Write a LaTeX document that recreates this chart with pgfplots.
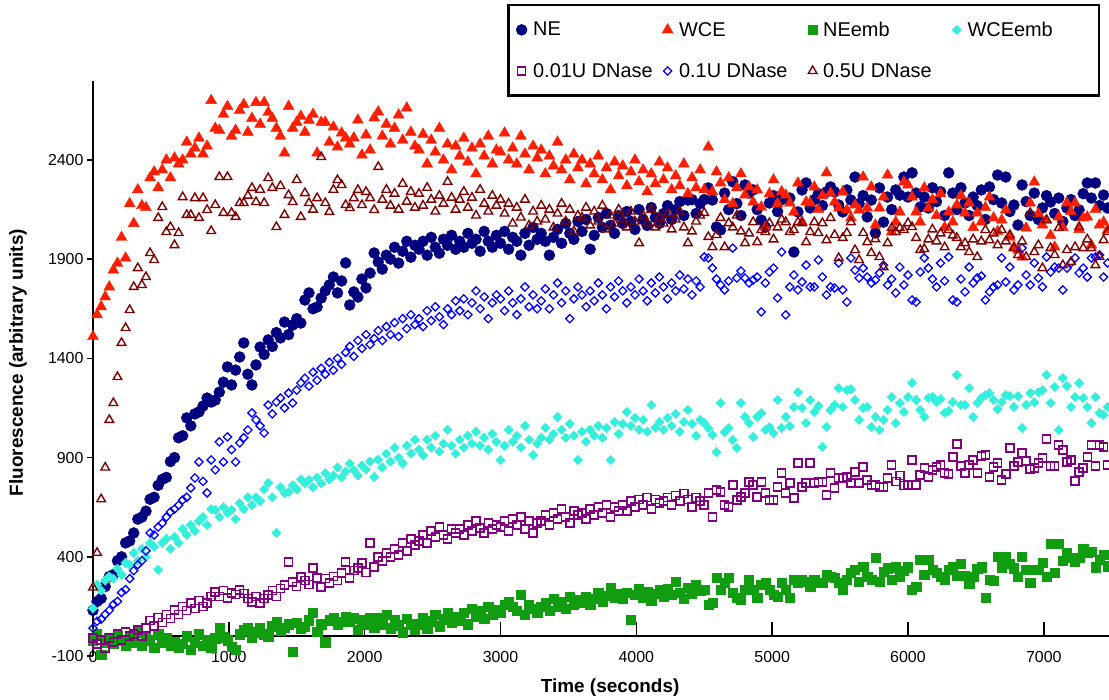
\documentclass[border=0pt]{standalone}
\usepackage{fontspec}
\setmainfont{Liberation Sans}
\usepackage{pgfplots}
\usepackage{pgfplotstable}
\pgfplotsset{compat=1.18}
\definecolor{cNE}{RGB}{0,0,128}
\definecolor{cWCE}{RGB}{255,30,0}
\definecolor{cNEe}{RGB}{16,158,16}
\definecolor{cWCEe}{RGB}{51,240,220}
\definecolor{cDa}{RGB}{128,0,128}
\definecolor{cDb}{RGB}{0,0,255}
\definecolor{cDc}{RGB}{128,0,0}
\pgfplotstableread{
t NE WCE NEe WCEe Da Db Dc
0 130 1510 -20 140 -10 40 245
30 175 1620 10 260 -40 75 420
60 190 1660 -95 230 -20 85 690
90 250 1710 -30 280 -60 110 850
120 300 1760 -10 300 -10 130 1090
150 310 1845 -40 290 -30 160 1175
180 380 1880 0 340 10 175 1306
210 400 2010 -20 310 -20 220 1478
240 470 1906 -50 370 20 235 1553
270 480 2180 -10 360 0 290 1644
300 520 2080 -30 420 10 330 1760
330 590 2250 20 380 30 360 1855
360 600 2170 -50 440 0 380 1770
390 630 2160 0 400 40 430 1810
420 690 2310 -20 470 80 520 1931
450 700 2340 -60 450 50 510 1896
480 760 2260 10 335 95 550 2108
510 790 2350 -30 470 70 570 2163
540 800 2400 -10 490 110 600 2037
570 880 2310 -50 440 90 626 2062
600 900 2410 -30 500 132 640 1971
630 1000 2380 -60 470 110 660 2032
660 1010 2400 -40 540 150 686 2213
690 1100 2490 0 510 130 700 2123
720 1060 2430 -70 560 167 747 2123
750 1120 2460 -30 530 140 797 2208
780 1130 2510 10 580 180 878 2108
810 1160 2430 -50 600 150 780 2208
840 1200 2470 -20 560 167 722 2148
870 1180 2700 -60 640 200 888 2042
900 1190 2560 -10 636 223 838 2173
930 1230 2550 40 600 200 979 2314
960 1280 2630 -5 650 230 878 2133
990 1357 2670 -20 620 192 1004 2314
1020 1266 2520 -55 636 218 940 2133
1050 1341 2550 -70 590 210 878 2113
1080 1407 2650 10 670 233 974 2183
1110 1478 2680 30 640 215 1000 2183
1140 1320 2540 40 700 190 1039 2220
1170 1266 2610 -5 661 172 1125 2259
1200 1367 2690 20 700 200 1090 2188
1230 1457 2580 41 680 167 1060 2250
1260 1420 2690 10 740 190 1024 2183
1290 1493 2640 -4 772 208 1165 2309
1320 1460 2610 50 700 230 1120 2259
1350 1530 2560 71 520 200 1180 2062
1380 1503 2520 30 750 240 1200 2269
1410 1583 2435 41 720 258 1150 2123
1440 1520 2670 60 727 374 1225 2223
1470 1568 2560 -80 760 273 1175 2188
1500 1600 2590 66 740 250 1240 2299
1530 1578 2620 40 790 298 1276 2113
1560 1694 2540 46 770 280 1300 2233
1590 1730 2600 80 787 260 1260 2183
1620 1650 2630 117 750 343 1330 2150
1650 1659 2435 21 800 293 1290 2208
1680 1704 2590 60 770 248 1350 2415
1710 1740 2590 -30 822 290 1320 2183
1740 1770 2490 80 790 268 1380 2138
1770 1810 2566 91 810 300 1340 2250
1800 1730 2465 60 850 280 1400 2299
1830 1790 2536 71 800 318 1370 2274
1860 1881 2511 100 830 374 1430 2173
1890 1669 2480 75 870 293 1460 2158
1920 1735 2511 91 837 330 1410 2208
1950 1709 2601 31 810 343 1490 2249
1980 1800 2425 80 860 369 1450 2173
2010 1755 2526 60 840 320 1520 2239
2040 1830 2450 95 880 470 1470 2208
2070 1931 2612 41 802 348 1500 2148
2100 1886 2642 91 890 399 1540 2365
2130 1850 2520 60 850 380 1490 2200
2160 1920 2580 107 920 420 1560 2250
2190 1900 2480 40 880 400 1520 2170
2220 1960 2560 80 950 440 1580 2230
2250 1880 2627 55 900 410 1510 2150
2280 1940 2500 20 870 470 1600 2280
2310 1990 2662 90 960 430 1550 2190
2340 1910 2540 60 920 490 1620 2240
2370 1970 2470 35 990 460 1570 2160
2400 1950 2450 60 940 480 1600 2230
2430 1990 2530 95 910 510 1560 2170
2460 1920 2380 40 990 470 1640 2260
2490 2010 2500 75 950 530 1590 2200
2520 1960 2440 110 1010 500 1660 2140
2550 1930 2560 50 930 550 1610 2220
2580 2000 2400 85 970 510 1570 2180
2610 1970 2480 120 1040 490 1650 2290
2640 2020 2350 70 960 540 1620 2210
2670 1950 2470 100 920 520 1690 2150
2700 1990 2420 80 990 540 1640 2200
2730 1960 2510 120 950 510 1700 2240
2760 2030 2390 60 1010 560 1620 2160
2790 1980 2460 140 970 530 1680 2210
2820 2000 2330 100 1030 580 1740 2120
2850 1940 2480 130 960 545 1650 2250
2880 2040 2420 90 1000 520 1710 2180
2910 1990 2520 150 940 570 1600 2140
2940 1960 2380 110 1020 540 1680 2220
2970 2020 2450 135 980 560 1720 2170
3000 1980 2440 120 888 550 1700 2200
3030 2040 2536 160 960 580 1640 2130
3060 1950 2400 172 1040 530 1740 2180
3090 2010 2460 150 980 590 1680 2080
3120 1990 2380 130 1010 560 1620 2160
3150 1920 2520 207 950 600 1700 2110
3180 2030 2430 110 1060 540 1760 2200
3210 1970 2350 160 990 580 1660 2070
3240 2060 2470 140 913 520 1720 2140
3270 2000 2410 120 970 570 1650 2090
3300 2030 2450 150 1000 580 1690 2170
3330 1990 2330 170 1050 610 1750 2100
3360 1920 2420 130 990 560 1650 2150
3390 2010 2370 190 1020 620 1720 2060
3420 2050 2490 150 1105 590 1780 2130
3450 1980 2350 175 1040 640 1680 2180
3480 2080 2400 140 1000 600 1740 2090
3510 2030 2300 200 1070 570 1600 2150
3540 2000 2430 160 1010 630 1700 2040
3570 2090 2360 185 888 610 1760 2120
3600 2040 2400 170 1030 620 1720 2110
3630 2100 2280 200 980 590 1660 2160
3660 1950 2380 160 1040 640 1740 2070
3690 2020 2330 190 1010 610 1690 2140
3720 2110 2420 220 1060 650 1780 2090
3750 2060 2300 175 1000 620 1720 2170
3780 2130 2360 205 1050 660 1650 2050
3810 2070 2250 243 888 600 1760 2120
3840 2030 2390 195 1080 650 1710 2080
3870 2120 2320 215 1020 630 1790 2150
3900 2080 2370 190 1070 660 1740 2100
3930 2140 2270 220 1130 630 1680 2060
3960 2090 2340 81 1060 680 1760 2140
3990 2050 2400 210 1100 650 1720 2090
4020 2150 2290 240 1040 690 1800 1981
4050 2100 2350 195 1090 660 1740 2120
4080 2070 2240 225 1030 700 1690 2080
4110 2160 2330 180 1165 640 1780 2150
4140 2110 2280 215 1050 690 1730 2060
4170 2080 2390 235 1080 670 1810 2110
4200 2130 2300 200 1040 680 1760 2080
4230 2170 2360 240 1100 700 1700 2130
4260 2100 2250 210 1060 660 1780 2050
4290 2150 2320 273 1120 710 1740 2100
4320 2190 2270 220 1030 680 1820 2140
4350 2120 2380 190 1080 720 1750 2060
4380 2198 2230 245 1140 690 1800 1981
4410 2200 2310 215 1070 650 1720 2040
4440 2130 2260 260 1010 700 1790 2090
4470 2180 2350 230 1090 680 1760 2120
4500 2200 2250 233 1074 661 1911 2133
4530 2259 2465 157 1049 721 1906 2012
4560 2198 2240 167 1014 600 1855 1961
4590 2062 2340 293 928 737 1800 2022
4620 2047 2284 233 1175 727 1770 2108
4650 2233 2200 268 1029 661 1745 1961
4680 2150 2310 293 1049 651 1790 2082
4710 2290 2180 218 989 762 1956 2060
4740 2180 2260 192 948 686 1805 2120
4770 2120 2330 182 1175 701 1840 2040
4800 2274 2223 233 1105 721 1805 1981
4830 2233 2264 283 1074 777 1780 2030
4860 2249 2188 233 1004 762 1795 2087
4890 2150 2249 192 1105 701 1810 1986
4920 2097 2163 258 1125 777 1634 2047
4950 2062 2062 268 1039 721 1780 2037
4980 2183 2230 233 1054 686 1835 2082
5010 2220 2300 207 1024 686 1855 2000
5040 2140 2180 197 1190 752 1704 2060
5070 2200 2240 268 1049 822 1936 2100
5100 2208 2223 233 1105 721 1619 2087
5130 2208 2183 192 1059 772 1760 2037
5160 1936 2138 283 1155 696 1820 2047
5190 2138 2284 268 1230 873 1745 2087
5220 2249 2087 283 1150 752 1785 2082
5250 2284 2188 273 1074 772 1870 1986
5280 2158 2183 248 1190 873 1760 2037
5310 2200 2264 283 1130 772 1760 2087
5340 2230 2150 268 1160 777 1896 2032
5370 2170 2220 268 953 777 1810 2082
5400 2239 2335 308 1054 711 1720 1996
5430 2264 2233 298 1140 822 1760 2108
5460 2239 2188 293 1165 747 1755 2022
5490 2173 2158 268 1250 797 1881 1906
5520 2138 2239 233 1155 797 1745 2007
5550 2249 2148 283 1240 802 1684 2032
5580 2198 2108 318 1245 772 1906 2087
5610 2314 2173 333 1190 827 1845 1946
5640 2180 2148 273 1090 772 1805 1896
5670 2220 2314 350 1150 853 1855 2032
5700 2113 2158 298 1155 787 1810 1986
5730 2198 2264 283 1054 762 1780 1931
5760 2032 2072 394 1105 762 1795 2001
5790 2259 2158 273 1039 752 1830 1911
5820 2087 2213 323 1090 752 1870 1860
5850 2213 2324 343 1140 797 1770 1981
5880 2150 2037 283 1205 863 1800 2057
5910 2249 2087 348 1074 780 1730 2037
5940 2223 2138 300 1175 810 1860 2057
5970 2314 2289 330 1130 760 1770 2047
6000 2213 2274 348 1205 762 1820 2082
6030 2335 2213 233 1276 888 1694 2062
6060 2233 2138 248 1190 762 1684 2007
6090 2163 2087 384 1140 812 1835 1946
6120 2213 2259 308 1105 848 1906 1951
6150 2158 2158 384 1200 802 1855 2000
6180 2260 2200 333 1205 837 1800 2050
6210 2190 2120 318 1180 853 1760 1990
6240 2240 2230 298 1195 863 1880 2030
6270 2120 2060 283 1125 822 1790 1960
6300 2335 2138 333 1135 817 1911 2047
6330 2233 2087 348 1180 903 1694 2020
6360 2150 2173 303 1316 968 1684 2007
6390 2260 2220 364 1165 858 1800 1961
6420 2183 2133 303 1165 822 1735 1981
6450 2120 2183 263 1250 863 1860 1936
6480 2213 2060 298 1105 888 1780 2000
6510 2170 2133 338 1175 822 1805 1911
6540 2249 2087 348 1200 908 1815 1990
6570 2100 2160 192 1215 913 1694 2047
6600 2264 2213 283 1225 802 1735 1996
6630 2200 2108 278 1190 853 1760 2030
6660 2324 2040 399 1145 873 1770 1971
6690 2183 2097 348 1180 787 1906 2047
6720 2314 2148 399 1215 817 1785 1990
6750 2140 2010 364 1210 948 1860 2022
6780 2173 1961 343 1155 858 1745 1956
6810 2072 1946 298 1210 878 1770 1921
6840 2274 1911 399 1049 923 1956 1990
6870 2190 2057 333 1165 883 1820 1911
6900 2120 2183 268 1225 842 1770 2133
6930 2233 2289 333 1180 848 1881 1936
6960 2100 2130 333 1230 873 1805 1971
6990 2158 2072 369 1240 898 1760 1855
7020 2220 2097 298 1316 994 1911 2097
7050 2188 2020 465 1175 858 1835 1956
7080 2130 1961 318 1256 858 1860 1921
7110 2208 2113 465 1039 963 1855 2057
7140 2090 2060 379 1301 938 1745 1870
7170 2158 2183 419 1261 878 1855 1946
7200 2200 2140 394 1155 888 1881 1886
7230 2120 2183 374 1205 782 1906 1961
7260 2148 2050 394 1276 827 1830 2062
7290 2230 2108 439 1200 848 1855 1956
7320 2284 2113 419 1155 903 1810 2000
7350 2208 1971 424 1074 963 1906 1956
7380 2284 2150 348 1205 858 1911 1870
7410 2170 2072 384 1125 963 1921 1911
7440 2223 2087 409 1115 953 1810 1996
7470 2158 2047 353 1155 863 1881 2037
}\data
\pgfplotsset{
  mk/.style={only marks, legend image code/.code={\draw[mark repeat=2,mark phase=2,##1] plot coordinates {(0bp,0bp) (5bp,0bp) (10bp,0bp)};}},
}
\newcommand{\legtxt}[1]{\makebox[131bp][l]{\hspace*{4bp}#1}}
\begin{document}
\begin{tikzpicture}[font=\fontsize{16}{19}\selectfont]
\useasboundingbox (-93bp,-44bp) rectangle (1016bp,656bp);
\begin{axis}[
  at={(0,0)}, anchor=south west,
  scale only axis, width=1016bp, height=575.4bp,
  xmin=0, xmax=7480, ymin=-100, ymax=2800,
  enlargelimits=false, clip=false,
  axis x line=bottom, axis y line=left,
  x axis line style={draw=none},
  y axis line style={line width=2bp, -},
  xtick={0,1000,2000,3000,4000,5000,6000,7000},
  xticklabels={0,1000,2000,3000,4000,5000,6000,7000},
  ytick={-100,400,900,1400,1900,2400},
  yticklabels={-100,400,900,1400,1900,2400},
  tick align=outside, major tick length=6bp,
  xtick style={draw=none},
  ytick style={line width=1.5bp, black},
  xticklabel style={yshift=14bp},
  xlabel={\fontsize{19}{22}\selectfont\bfseries Time (seconds)},
  ylabel={\fontsize{19}{22}\selectfont\bfseries Fluorescence (arbitrary units)},
  x label style={at={(axis description cs:0.509,-0.0556)}, anchor=center},
  y label style={at={(axis description cs:-0.0738,0.51)}, anchor=center},
  legend columns=4,
  legend cell align=left,
  legend style={draw=none, fill=none, inner sep=0pt, row sep=21.5bp,
    font=\fontsize{20}{24}\selectfont,
    at={(axis description cs:0.4163,1.1058)}, anchor=north west},
]
\draw[line width=2bp] (axis cs:0,0) -- (axis cs:7480,0);
\draw[line width=1.5bp] (axis cs:1000,0) -- ++(0,-6bp);
\draw[line width=1.5bp] (axis cs:2000,0) -- ++(0,-6bp);
\draw[line width=1.5bp] (axis cs:3000,0) -- ++(0,-6bp);
\draw[line width=1.5bp] (axis cs:4000,0) -- ++(0,-6bp);
\draw[line width=1.5bp] (axis cs:5000,0) -- ++(0,-6bp);
\draw[line width=1.5bp] (axis cs:6000,0) -- ++(0,-6bp);
\draw[line width=1.5bp] (axis cs:7000,0) -- ++(0,-6bp);
\addplot[mk, mark=*, mark size=5.5bp, draw=cNE, fill=cNE] table[x=t,y=NE]{\data};
\addlegendentry{\legtxt{NE}}
\addplot[mk, mark=triangle*, mark size=6.3bp, draw=cWCE, fill=cWCE] table[x=t,y=WCE]{\data};
\addlegendentry{\legtxt{WCE}}
\addplot[mk, mark=square*, mark size=4.6bp, draw=cNEe, fill=cNEe] table[x=t,y=NEe]{\data};
\addlegendentry{\legtxt{NEemb}}
\addplot[mk, mark=square*, mark size=3.3bp, mark options={rotate=45}, draw=cWCEe, fill=cWCEe] table[x=t,y=WCEe]{\data};
\addlegendentry{\legtxt{WCEemb}}
\addplot[mk, mark=square, mark size=4.0bp, mark options={line width=1.5bp}, draw=cDa] table[x=t,y=Da]{\data};
\addlegendentry{\legtxt{0.01U DNase}}
\addplot[mk, mark=square, mark size=2.9bp, mark options={rotate=45, line width=1.3bp}, draw=cDb] table[x=t,y=Db]{\data};
\addlegendentry{\legtxt{0.1U DNase}}
\addplot[mk, mark=triangle, mark size=5.0bp, mark options={line width=1.4bp}, draw=cDc] table[x=t,y=Dc]{\data};
\addlegendentry{\legtxt{0.5U DNase}}
\end{axis}
\draw[line width=2.5bp] (415.5bp,560.5bp) rectangle (1006bp,651bp);
\end{tikzpicture}
\end{document}
